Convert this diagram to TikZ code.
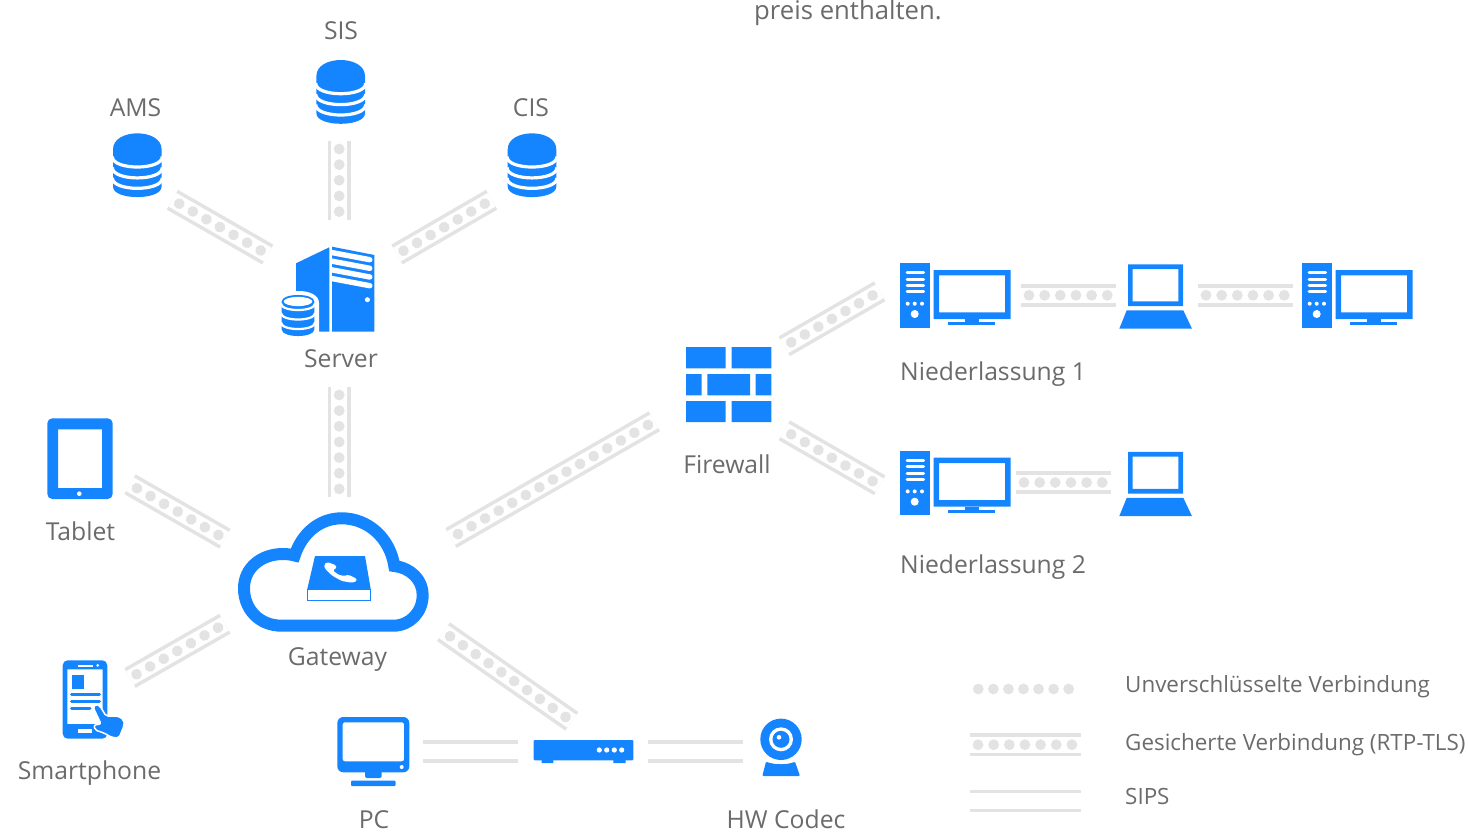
\documentclass[tikz,border=0pt]{standalone}
\usepackage{fontspec}
\usepackage{xcolor}
\usepackage{tikz}
\usetikzlibrary{decorations.markings}
\setmainfont{Open Sans}
\definecolor{iconblue}{HTML}{1585FF}
\definecolor{linkgray}{HTML}{E3E3E3}
\definecolor{labelgray}{HTML}{6B6B6B}
\newcommand{\dbshape}{
\fill[iconblue] (-24.3,0) -- (-24.3,37.3) .. controls (-24.3,51.3) and (24.3,51.3) .. (24.3,37.3) -- (24.3,0) .. controls (24.3,-21.3) and (-24.3,-21.3) .. (-24.3,0) -- cycle;
\foreach \d in {7.3,18.2,28.6} {
\draw[white,line width=3.2] (-25,\d) .. controls (-25,\d+13.9) and (25,\d+13.9) .. (25,\d);
}
}
\tikzset{
linklabel/.style={text=labelgray,anchor=base,inner sep=0pt,font=\fontsize{24.7}{30}\selectfont},
branchlabel/.style={linklabel,anchor=base west},
legendlabel/.style={text=labelgray,anchor=base west,inner sep=0pt,font=\fontsize{22.4}{28}\selectfont},
dotmarks/.style={postaction={decorate},decoration={markings,mark=between positions 8pt and -4pt step #1 with {\fill[linkgray] (0,0) circle (5.4);}}},
sipslink/.style={draw=linkgray,line width=3.6,double=white,double distance=15.6},
securelink/.style={sipslink,dotmarks=15.65pt},
plainlink/.style={dotmarks=15.06pt},
dbicon/.pic={\dbshape},
deskicon/.pic={
\fill[iconblue] (0,0) rectangle (29.7,64.4);
\foreach \y in {9.4,15.7,22,28.4} {
\draw[white,line width=3,line cap=round] (7,\y) -- (23.7,\y);
}
\foreach \x in {7.7,14.7,22} {
\fill[white] (\x,40.4) circle (2);
}
\fill[white] (14.7,50.7) circle (4);
\fill[iconblue,even odd rule] (33.7,6.7) rectangle (110.7,55.7) (39,12) rectangle (105,49);
\fill[iconblue] (65,55.7) rectangle (78.7,60.5);
\fill[iconblue] (48.3,59) rectangle (95,62);
},
laptopicon/.pic={
\fill[iconblue,even odd rule] (8.7,0) rectangle (63.7,41.7) (13.4,4.7) rectangle (59,37);
\fill[iconblue] (7.4,46) -- (64,46) -- (72.7,64.4) -- (0,64.4) -- cycle;
}
}
\begin{document}
\begin{tikzpicture}[x=1pt,y=-1pt]
\useasboundingbox (0,0) rectangle (1468,832);
\node[text=labelgray,anchor=base west,inner sep=0pt,font=\fontsize{25.7}{30}\selectfont] (topnote) at (754,20) {preis enthalten.};
\pic (dbSis) at (340.7,76) {dbicon};
\pic (dbAms) at (137.3,149.3) {dbicon};
\pic (dbCis) at (532,149.3) {dbicon};
\node[linklabel] (sis) at (341,39.3) {SIS};
\node[linklabel] (ams) at (135.5,116.3) {AMS};
\node[linklabel] (cis) at (531,116.3) {CIS};
\fill[iconblue] (332,246.7) -- (374.3,255) -- (374.3,331.7) -- (332,331.7) -- cycle;
\foreach \y in {259.7,268.3,277,285.7} {
\draw[white,line width=5.4,line cap=round] (330,\y-7.5) -- (369.8,\y);
}
\fill[iconblue] (296,263.3) -- (329.3,247.3) -- (329.3,331.7) -- (296,331.7) -- cycle;
\fill[white] (367.4,299.7) circle (2.5);
\fill[white] (279,303) rectangle (319,338) (279,303) .. controls (279,287) and (319,287) .. (319,303);
\fill[iconblue] (281.7,301.5) -- (281.7,329.5) .. controls (281.7,338.2) and (314.3,338.2) .. (314.3,329.5) -- (314.3,301.5) .. controls (314.3,292.8) and (281.7,292.8) .. (281.7,301.5) -- cycle;
\fill[white] (298,301.5) circle [x radius=14.3,y radius=4.6];
\foreach \d in {303.5,313,322.5} {
\draw[white,line width=2.2] (281,\d) .. controls (281,\d+8.7) and (315,\d+8.7) .. (315,\d);
}
\node[linklabel] (server) at (341,367) {Server};
\fill[iconblue] (686,347) rectangle (725.7,368.3) (731.7,347) rectangle (771.3,368.3);
\fill[iconblue] (686,374) rectangle (701.7,395.3) (707.3,374) rectangle (750,395.3) (755.7,374) rectangle (771.3,395.3);
\fill[iconblue] (686,401) rectangle (725.7,422) (731.7,401) rectangle (771.3,422);
\node[linklabel] (firewall) at (727,473) {Firewall};
\pic (deskA) at (900,263.3) {deskicon};
\pic (laptopA) at (1119.3,264.3) {laptopicon};
\pic (deskB) at (1302,263.3) {deskicon};
\pic (deskC) at (900,451) {deskicon};
\pic (laptopB) at (1119.3,451.8) {laptopicon};
\node[branchlabel] (branchA) at (900,380) {Niederlassung 1};
\node[branchlabel] (branchB) at (900,573) {Niederlassung 2};
\fill[iconblue,even odd rule,rounded corners=5] (47.3,418.3) rectangle (112.7,499) [sharp corners] (58,429.3) rectangle (102,488);
\fill[white] (79.3,493.7) circle (2.3);
\node[linklabel] (tablet) at (80.5,540) {Tablet};
\draw[iconblue,line width=12] (281.7,625.7) .. controls (259,625.7) and (244,609) .. (244,588.3) .. controls (244,568) and (261,554) .. (283,554) .. controls (287,554) and (291,554.5) .. (294.7,555.5) .. controls (302,533) and (320,518.3) .. (341.7,518.3) .. controls (368,518.3) and (390,538) .. (394.3,566) .. controls (411,568) and (422.7,580) .. (422.7,595) .. controls (422.7,612) and (410,625.7) .. (393.3,625.7) -- cycle;
\fill[iconblue] (315,556) -- (365,556) -- (370.7,589) -- (307.3,589) -- cycle;
\draw[iconblue,line width=1] (307.8,589) rectangle (370.2,600);
\fill[white,rounded corners=1.5] (324,564.7) -- (327.3,562) -- (336,565.3) -- (336.7,568) -- (332.7,570.3) -- (338.3,574.7) -- (344.3,576) -- (348.3,574.7) -- (356.7,578.7) -- (356.7,581.3) -- (351.7,582.7) -- (341.7,581) -- (331.7,575.3) -- (325,568.7) -- cycle;
\node[linklabel] (gateway) at (337.5,665.5) {Gateway};
\fill[iconblue,even odd rule,rounded corners=5] (62.7,660.3) rectangle (107.3,738.7) [sharp corners] (67.3,669.3) rectangle (102.7,724);
\draw[white,line width=1.6] (77.7,665.7) -- (93.3,665.7);
\fill[white] (97.7,665.3) circle (1.5);
\fill[white] (78.3,728.7) rectangle (91.7,732.7);
\fill[iconblue] (71.7,675.3) rectangle (84.3,688.7);
\draw[iconblue,line width=3,line cap=round] (71.5,694.3) -- (99.5,694.3);
\draw[iconblue,line width=3,line cap=round] (71.5,701.3) -- (99.5,701.3);
\draw[iconblue,line width=3,line cap=round] (71.5,708.7) -- (90,708.7);
\filldraw[fill=iconblue,draw=white,line width=1.5,rounded corners=2] (93,707) -- (96,704) -- (100,706) -- (106,716) -- (118,716) -- (124,720) -- (124,726) -- (119,738) -- (112,737.5) -- (104,733) -- (95,730) -- (94,725) -- (101,724) -- cycle;
\node[linklabel] (smartphone) at (89.5,779) {Smartphone};
\fill[iconblue,even odd rule,rounded corners=6] (337.3,717) rectangle (409.3,772.3) [rounded corners=2] (342.7,722.3) rectangle (404,761.3);
\fill[white] (401.7,767) circle (2);
\fill[iconblue,rounded corners=2] (365,770) rectangle (381.7,778);
\fill[iconblue,rounded corners=1] (351,780.7) rectangle (395.7,786);
\node[linklabel] (pc) at (374,828.5) {PC};
\fill[iconblue,rounded corners=1] (533.7,740) rectangle (633.3,760.3);
\fill[iconblue] (541.7,760) rectangle (553.3,763) (613.3,760) rectangle (625.7,763);
\foreach \x in {599.3,606.7,614.3,621.7} {
\fill[white] (\x,750) circle (2.6);
}
\fill[iconblue] (781,739.3) circle (20.7);
\fill[white] (781,739.3) circle (12);
\fill[iconblue] (781,739.3) circle (8.5);
\fill[white] (779,737.3) circle (2.3);
\fill[iconblue,rounded corners=1] (766,761.7) .. controls (775,765) and (787,765) .. (795,761.7) -- (800,776) -- (762.3,776) -- cycle;
\node[linklabel] (codec) at (786,828.5) {HW Codec};
\coordinate (amsEnd) at (172.3,199.7);
\coordinate (serverAms) at (267.7,254.5);
\coordinate (sisEnd) at (339.2,141);
\coordinate (serverSis) at (339.2,219.7);
\coordinate (cisEnd) at (491.7,199.7);
\coordinate (serverCis) at (397,254.5);
\coordinate (serverDown) at (339.2,387);
\coordinate (gatewayUp) at (339.2,497);
\coordinate (gatewayEast) at (451,538);
\coordinate (firewallWest) at (654.3,421.3);
\coordinate (firewallNorth) at (784.3,346.3);
\coordinate (branchAWest) at (879.7,291.3);
\coordinate (firewallSouth) at (784.3,430.3);
\coordinate (branchBWest) at (879.7,485.3);
\coordinate (deskAEast) at (1021,295.3);
\coordinate (laptopAWest) at (1116,295.3);
\coordinate (laptopAEast) at (1198,295.3);
\coordinate (deskBWest) at (1293,295.3);
\coordinate (deskCEast) at (1016,482.5);
\coordinate (laptopBWest) at (1111,482.5);
\coordinate (tabletEnd) at (130,484.3);
\coordinate (gatewayTablet) at (225,538.7);
\coordinate (gatewayPhone) at (225,623.7);
\coordinate (phoneEnd) at (130,678);
\coordinate (gatewaySouth) at (443.5,631.7);
\coordinate (routerNorth) at (571.8,721.3);
\coordinate (pcEast) at (422.7,751.5);
\coordinate (routerWest) at (517.7,751.5);
\coordinate (routerEast) at (647.7,751.5);
\coordinate (codecWest) at (742.7,751.5);
\draw[securelink] (amsEnd) -- (serverAms);
\draw[securelink] (sisEnd) -- (serverSis);
\draw[securelink] (cisEnd) -- (serverCis);
\draw[securelink] (serverDown) -- (gatewayUp);
\draw[securelink] (gatewayEast) -- (firewallWest);
\draw[securelink] (firewallNorth) -- (branchAWest);
\draw[securelink] (firewallSouth) -- (branchBWest);
\draw[securelink] (deskAEast) -- (laptopAWest);
\draw[securelink] (laptopAEast) -- (deskBWest);
\draw[securelink] (deskCEast) -- (laptopBWest);
\draw[securelink] (tabletEnd) -- (gatewayTablet);
\draw[securelink] (gatewayPhone) -- (phoneEnd);
\draw[securelink] (gatewaySouth) -- (routerNorth);
\draw[sipslink] (pcEast) -- (routerWest);
\draw[sipslink] (routerEast) -- (codecWest);
\coordinate (legendPlainA) at (970.3,689);
\coordinate (legendPlainB) at (1074,689);
\coordinate (legendSecureA) at (970,744.7);
\coordinate (legendSecureB) at (1081,744.7);
\coordinate (legendSipsA) at (970,801);
\coordinate (legendSipsB) at (1081,801);
\path[plainlink] (legendPlainA) -- (legendPlainB);
\draw[securelink] (legendSecureA) -- (legendSecureB);
\draw[sipslink] (legendSipsA) -- (legendSipsB);
\node[legendlabel] (legendPlain) at (1125,692) {Unverschlüsselte Verbindung};
\node[legendlabel] (legendSecure) at (1125,750) {Gesicherte Verbindung (RTP-TLS)};
\node[legendlabel] (legendSips) at (1125,804) {SIPS};
\end{tikzpicture}
\end{document}
